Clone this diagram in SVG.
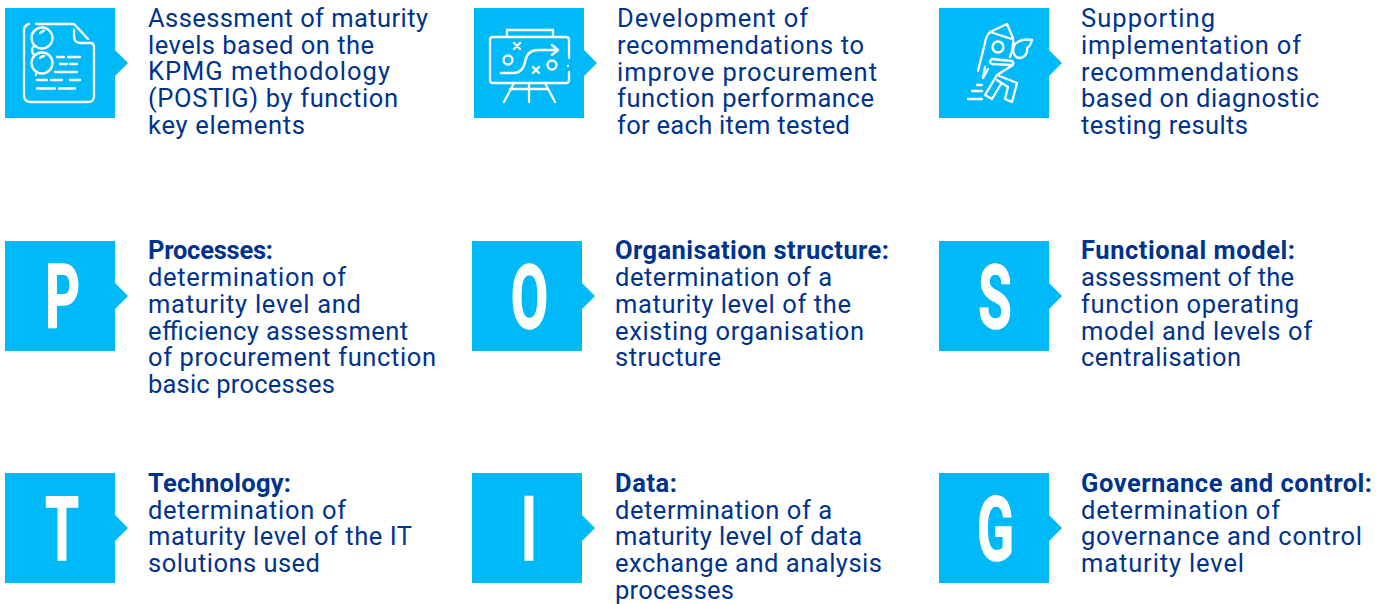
<svg xmlns="http://www.w3.org/2000/svg" width="1391" height="604" viewBox="0 0 1391 604">
<style>
.b{fill:#00b9f9}
.t{font-family:"Roboto","Liberation Sans",sans-serif;font-size:25.500px;fill:#00338d}
.h{font-weight:700}
.l{font-family:"Roboto","Liberation Sans",sans-serif;font-weight:700;font-size:89px;fill:#fff;stroke:#fff;stroke-width:1.500px;text-anchor:middle}
.i{fill:none;stroke:#fff;stroke-width:2.300;stroke-linecap:round;stroke-linejoin:round}
</style>
<defs><path id="box" class="b" d="M0 0H110V42L123 55L110 68V110H0Z"/></defs>
<g id="node-assessment"><use href="#box" x="5" y="8"/>
<g class="i"><path d="M29 24Q24 25 24 31V95Q24 102 31 102H88Q94 102 94 96V47Q94 43 90 43H81Q74 43 74 36V30M36 24H74L88 39"/><circle cx="42" cy="38" r="10.500"/><circle cx="42" cy="63" r="10.500"/><path d="M34 46Q30 50 34 55M36 74L36 75M40 33Q42 31 44 31M40 58Q42 56 44 56M57 57H64M68 57H80M60 64H67M70 64H77M55 72H77M37 80H47M51 80H62M70 80H80M37 88.500H55M59 88.500H75"/></g>
<text class="t"><tspan x="148" y="27" textLength="280">Assessment of maturity</tspan><tspan x="148" y="54" textLength="226">levels based on the</tspan><tspan x="148" y="80" textLength="242">KPMG methodology</tspan><tspan x="148" y="107" textLength="250">(POSTIG) by function</tspan><tspan x="148" y="134" textLength="157">key elements</tspan></text></g>
<g id="node-recommendations"><use href="#box" x="474" y="8"/>
<g class="i"><path d="M507 37V30H553V37M569 58V40Q569 37 566 37H493Q490 37 490 40V80Q490 83 493 83H566Q569 83 569 80V72M568 66V66M514 83L504 102M529 83V102M545 83L555 102M510 89H548M501 73H513Q523 73 525 62Q527 50 538 50H558M552 45L558 50L552 55M514 43L520 49M520 43L514 49M533 67L539 73M539 67L533 73"/><circle cx="508" cy="60" r="4.500"/><circle cx="552" cy="65" r="4.500"/></g>
<text class="t"><tspan x="617" y="27" textLength="191">Development of</tspan><tspan x="617" y="54" textLength="247">recommendations to</tspan><tspan x="617" y="81" textLength="260">improve procurement</tspan><tspan x="617" y="107" textLength="257">function performance</tspan><tspan x="617" y="134" textLength="233">for each item tested</tspan></text></g>
<g id="node-implementation"><use href="#box" x="939" y="8"/>
<g class="i"><path d="M978 71L985 43Q986 36 990 32L1007 24L1013 38Q1014 48 1010 57M990 32L1012 39M1015 44Q1022 38 1032 40Q1030 47 1027 48Q1028 54 1023 57Q1017 60 1014 54M1015 44Q1012 50 1014 54M992 59L1012 61Q1015 63 1012 65L992 64Q988 62 992 59M985 67L983 78L988 69M1013 65L997 75L1017 83L1012 102L1005 99L1008 87L997 80M997 75L985 95L992 99L1001 84M977 85H982M972 91H982M968 99H982"/><circle cx="998" cy="47" r="5.500"/></g>
<text class="t"><tspan x="1081" y="27" textLength="134">Supporting</tspan><tspan x="1081" y="54" textLength="220">implementation of</tspan><tspan x="1081" y="81" textLength="218">recommendations</tspan><tspan x="1081" y="107" textLength="238">based on diagnostic</tspan><tspan x="1081" y="134" textLength="167">testing results</tspan></text></g>
<g id="node-p"><use href="#box" x="5" y="241"/><text class="l" transform="translate(62.500 327.500) scale(.61 1)">P</text>
<text class="t"><tspan class="h" x="148" y="259" textLength="125">Processes:</tspan><tspan x="148" y="286" textLength="198">determination of</tspan><tspan x="148" y="313" textLength="213">maturity level and</tspan><tspan x="148" y="340" textLength="260">efficiency assessment</tspan><tspan x="148" y="366" textLength="288">of procurement function</tspan><tspan x="148" y="393" textLength="187">basic processes</tspan></text></g>
<g id="node-o"><use href="#box" x="472" y="241"/><text class="l" transform="translate(529.500 327.500) scale(.61 1)">O</text>
<text class="t"><tspan class="h" x="615" y="259" textLength="274">Organisation structure:</tspan><tspan x="615" y="286" textLength="217">determination of a</tspan><tspan x="615" y="313" textLength="236">maturity level of the</tspan><tspan x="615" y="340" textLength="249">existing organisation</tspan><tspan x="615" y="366" textLength="106">structure</tspan></text></g>
<g id="node-s"><use href="#box" x="939" y="241"/><text class="l" transform="translate(995 327.500) scale(.61 1)">S</text>
<text class="t"><tspan class="h" x="1081" y="259" textLength="214">Functional model:</tspan><tspan x="1081" y="286" textLength="213">assessment of the</tspan><tspan x="1081" y="313" textLength="218">function operating</tspan><tspan x="1081" y="340" textLength="231">model and levels of</tspan><tspan x="1081" y="366" textLength="160">centralisation</tspan></text></g>
<g id="node-t"><use href="#box" x="5" y="473"/><text class="l" transform="translate(62 560) scale(.61 1)">T</text>
<text class="t"><tspan class="h" x="148" y="492" textLength="143">Technology:</tspan><tspan x="148" y="519" textLength="198">determination of</tspan><tspan x="148" y="545" textLength="264">maturity level of the IT</tspan><tspan x="148" y="572" textLength="172">solutions used</tspan></text></g>
<g id="node-i"><use href="#box" x="472" y="473"/><text class="l" transform="translate(529 560) scale(.61 1)">I</text>
<text class="t"><tspan class="h" x="615" y="492" textLength="62">Data:</tspan><tspan x="615" y="519" textLength="217">determination of a</tspan><tspan x="615" y="545" textLength="247">maturity level of data</tspan><tspan x="615" y="572" textLength="267">exchange and analysis</tspan><tspan x="615" y="599" textLength="119">processes</tspan></text></g>
<g id="node-g"><use href="#box" x="939" y="473"/><text class="l" transform="translate(995.500 560) scale(.61 1)">G</text>
<text class="t"><tspan class="h" x="1081" y="492" textLength="291">Governance and control:</tspan><tspan x="1081" y="519" textLength="199">determination of</tspan><tspan x="1081" y="545" textLength="281">governance and control</tspan><tspan x="1081" y="572" textLength="163">maturity level</tspan></text></g>
<g id="connectors"/>
</svg>
